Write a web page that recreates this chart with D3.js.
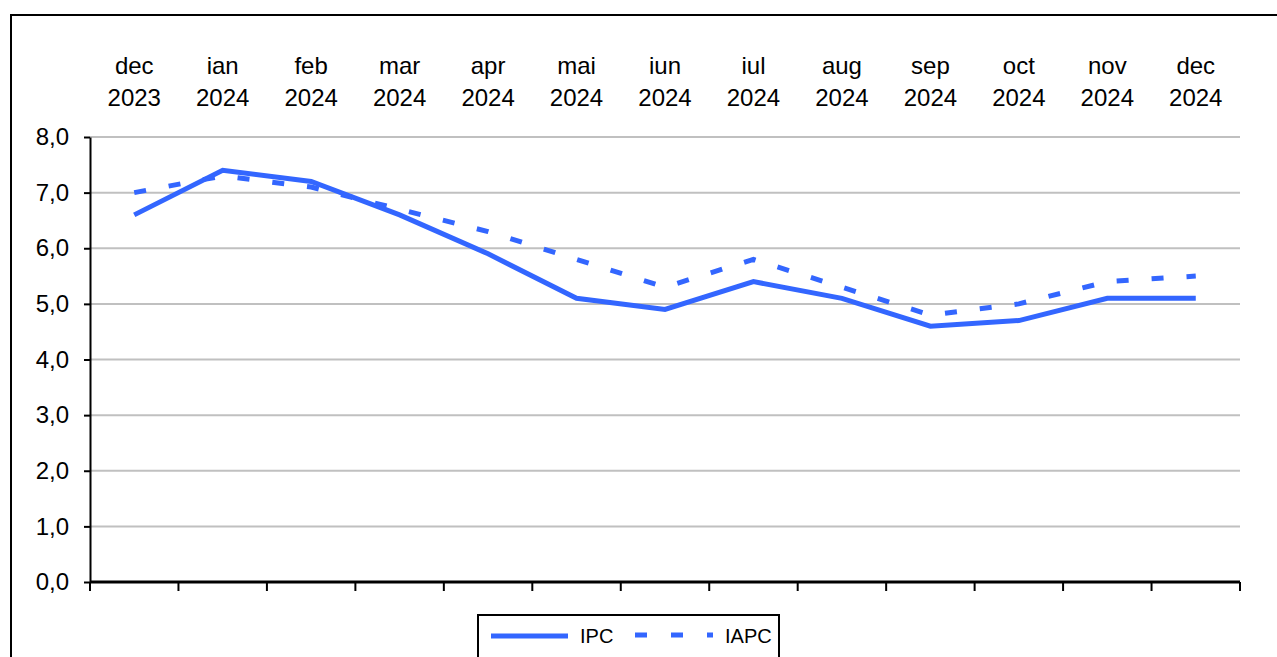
<!DOCTYPE html>
<html>
<head>
<meta charset="utf-8">
<script src="https://cdn.jsdelivr.net/npm/d3@7"></script>
<style>
  body { margin: 0; background: #fff; }
  svg { display: block; font-family: Arial, "Liberation Sans", sans-serif; }
</style>
</head>
<body>
<svg id="chart" width="1277" height="657"></svg>
<script>
// date
var months = ['dec', 'ian', 'feb', 'mar', 'apr', 'mai', 'iun', 'iul', 'aug', 'sep', 'oct', 'nov', 'dec'];
var years = ['2023', '2024', '2024', '2024', '2024', '2024', '2024', '2024', '2024', '2024', '2024', '2024', '2024'];
var ipc = [6.6, 7.4, 7.2, 6.6, 5.9, 5.1, 4.9, 5.4, 5.1, 4.6, 4.7, 5.1, 5.1];
var iapc = [7.0, 7.3, 7.1, 6.7, 6.3, 5.8, 5.3, 5.8, 5.3, 4.8, 5.0, 5.4, 5.5];
var yTicks = [0, 1, 2, 3, 4, 5, 6, 7, 8];

var blue = '#3366FF';
var svg = d3.select('#chart');
var keys = months.map(function(m, i) { return i; });

var x = d3.scaleBand().domain(keys).range([90, 1240]);
var y = d3.scaleLinear().domain([0, 8]).range([582, 137]);
var cx = function(i) { return x(i) + x.bandwidth() / 2; };
var fmt = function(v) { return d3.format('.1f')(v).replace('.', ','); };

// chenar exterior
svg.append('path')
  .attr('d', 'M11,657 L11,15 L1277,15')
  .attr('fill', 'none').attr('stroke', '#000').attr('stroke-width', 2);

// grila
svg.append('g').selectAll('line').data(yTicks.slice(1)).join('line')
  .attr('x1', 90).attr('x2', 1240)
  .attr('y1', function(d) { return y(d); }).attr('y2', function(d) { return y(d); })
  .attr('stroke', '#c0c0c0').attr('stroke-width', 2);

// axa Y
var yAxis = svg.append('g').attr('transform', 'translate(90,0)')
  .call(d3.axisLeft(y).tickValues(yTicks).tickSize(6).tickSizeOuter(0).tickPadding(15).tickFormat(fmt));
yAxis.select('.domain').attr('stroke', '#000').attr('stroke-width', 2);
yAxis.selectAll('.tick line').attr('stroke', '#000').attr('stroke-width', 2);
yAxis.selectAll('.tick text').attr('font-size', 24).attr('fill', '#000')
  .attr('font-family', 'Arial, "Liberation Sans", sans-serif');

// axa X
svg.append('line').attr('x1', 90).attr('x2', 1240).attr('y1', y(0)).attr('y2', y(0))
  .attr('stroke', '#000').attr('stroke-width', 3);
var bounds = keys.map(function(i) { return x(i); }).concat([x.range()[1]]);
svg.append('g').selectAll('line').data(bounds).join('line')
  .attr('x1', function(d) { return d; }).attr('x2', function(d) { return d; })
  .attr('y1', y(0)).attr('y2', y(0) + 9)
  .attr('stroke', '#000').attr('stroke-width', 2);

// etichete luni sus
var lab = svg.append('g').selectAll('text').data(keys).join('text')
  .attr('text-anchor', 'middle').attr('font-size', 24).attr('fill', '#000')
  .attr('x', function(i) { return cx(i); });
lab.append('tspan').attr('x', function(i) { return cx(i); }).attr('y', 74)
  .text(function(i) { return months[i]; });
lab.append('tspan').attr('x', function(i) { return cx(i); }).attr('y', 106)
  .text(function(i) { return years[i]; });

// linii
var line = d3.line().x(function(d, i) { return cx(i); }).y(function(d) { return y(d); });
svg.append('path').datum(iapc).attr('d', line)
  .attr('fill', 'none').attr('stroke', blue).attr('stroke-width', 5)
  .attr('stroke-dasharray', '12,23');
svg.append('path').datum(ipc).attr('d', line)
  .attr('fill', 'none').attr('stroke', blue).attr('stroke-width', 5)
  .attr('stroke-linejoin', 'miter');

// legenda
var leg = svg.append('g');
leg.append('rect').attr('x', 478).attr('y', 615).attr('width', 301).attr('height', 60)
  .attr('fill', '#fff').attr('stroke', '#000').attr('stroke-width', 2);
leg.append('line').attr('x1', 491).attr('x2', 568).attr('y1', 636).attr('y2', 636)
  .attr('stroke', blue).attr('stroke-width', 5);
leg.append('text').attr('x', 580).attr('y', 643).attr('font-size', 20).text('IPC');
leg.append('line').attr('x1', 635).attr('x2', 713).attr('y1', 635).attr('y2', 635)
  .attr('stroke', blue).attr('stroke-width', 5).attr('stroke-dasharray', '12,24');
leg.append('text').attr('x', 725).attr('y', 643).attr('font-size', 20).text('IAPC');
</script>
</body>
</html>
